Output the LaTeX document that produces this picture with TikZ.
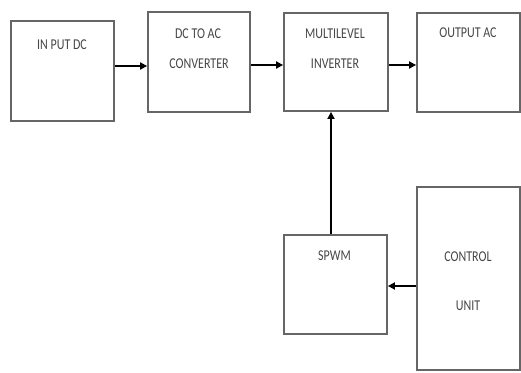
\documentclass[tikz,border=0pt]{standalone}
\usepackage{fontspec}
\setmainfont{Carlito}
\usetikzlibrary{arrows.meta}
\begin{document}
\begin{tikzpicture}[x=1pt,y=-1pt,
  blockbox/.style={draw=black!60,line width=1.8pt,fill=white,inner sep=0pt,minimum width=#1},
  lbl/.style={text=black!72,font=\fontsize{12}{13}\selectfont,inner sep=0pt,yscale=1.25},
  arr/.style={line width=2.4pt,-{Triangle[length=7pt,width=7pt]}}]
\useasboundingbox[fill=white] (0,0) rectangle (521,372);
\node[blockbox=103pt,minimum height=100pt] (inp) at (62.5,71) {};
\node[blockbox=102pt,minimum height=100pt] (dcac) at (199,62) {};
\node[blockbox=104pt,minimum height=98pt] (mli) at (336,62) {};
\node[blockbox=103pt,minimum height=99pt] (out) at (468.5,62.5) {};
\node[blockbox=103pt,minimum height=99pt] (spwm) at (335.5,284.5) {};
\node[blockbox=103pt,minimum height=183pt] (ctrl) at (468.5,278.5) {};
\node[lbl] (t1) at (62,45) {IN PUT DC};
\node[lbl] (t2) at (198,34) {DC TO AC};
\node[lbl] (t3) at (199,64) {CONVERTER};
\node[lbl] (t4) at (335,34) {MULTILEVEL};
\node[lbl] (t5) at (335,64) {INVERTER};
\node[lbl] (t6) at (468,33) {OUTPUT AC};
\node[lbl] (t7) at (334.5,256) {SPWM};
\node[lbl] (t8) at (468,257) {CONTROL};
\node[lbl] (t9) at (468,306) {UNIT};
\draw[arr] ([yshift=5pt]inp.east) coordinate (s1) -- (s1 -| dcac.west);
\draw[arr] ([yshift=-3pt]dcac.east) coordinate (s2) -- (s2 -| mli.west);
\draw[arr] ([yshift=-3pt]mli.east) coordinate (s3) -- (s3 -| out.west);
\draw[arr] ([xshift=-4.5pt]spwm.north) coordinate (s4) -- (s4 |- mli.south);
\draw[arr] ([yshift=-7.5pt]ctrl.west) coordinate (s5) -- (s5 -| spwm.east);
\end{tikzpicture}
\end{document}
